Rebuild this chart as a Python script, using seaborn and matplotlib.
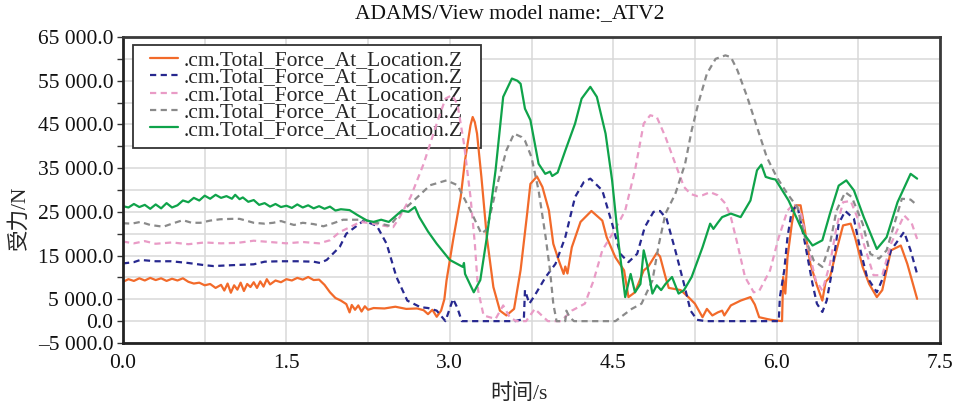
import numpy as np
import pandas as pd
import matplotlib
matplotlib.use("Agg")
import matplotlib.pyplot as plt
import seaborn as sns
from matplotlib.ticker import FuncFormatter, MultipleLocator, FixedLocator
from matplotlib.patches import Rectangle

# ---------------- data (time in s, force in kN -> scaled to N) ----------------
label = ".cm.Total_Force_At_Location.Z"
title = "ADAMS/View model name:_ATV2"
xlabel = "时间/s"
ylabel = "受力/N"

orange_t = [0.00, 0.05, 0.10, 0.15, 0.20, 0.25, 0.30, 0.35, 0.40, 0.45, 0.50, 0.55, 0.60, 0.65, 0.70, 0.75,
            0.80, 0.85, 0.90, 0.93, 0.96, 0.99, 1.02, 1.05, 1.08, 1.11, 1.14, 1.17, 1.20, 1.23, 1.26, 1.29,
            1.32, 1.35, 1.40, 1.45, 1.50, 1.55, 1.60, 1.65, 1.70, 1.75, 1.80, 1.85, 1.90, 1.95, 2.00, 2.05,
            2.08, 2.10, 2.13, 2.16, 2.19, 2.22, 2.25, 2.30, 2.40, 2.50, 2.60, 2.70, 2.76, 2.80, 2.84, 2.88,
            2.92, 2.95, 2.97, 3.03, 3.10, 3.14, 3.19, 3.21, 3.23, 3.25, 3.29, 3.34, 3.40, 3.46, 3.52, 3.59,
            3.65, 3.71, 3.74, 3.80, 3.85, 3.91, 3.95, 4.00, 4.045, 4.06, 4.08, 4.12, 4.20, 4.30, 4.40, 4.44,
            4.52, 4.60, 4.64, 4.70, 4.78, 4.82, 4.90, 4.93, 4.98, 5.01, 5.12, 5.19, 5.25, 5.32, 5.36, 5.41,
            5.46, 5.50, 5.52, 5.58, 5.67, 5.76, 5.80, 5.84, 5.91, 5.95, 6.05, 6.06, 6.08, 6.10, 6.14, 6.17,
            6.22, 6.25, 6.31, 6.37, 6.42, 6.45, 6.49, 6.55, 6.61, 6.68, 6.72, 6.79, 6.85, 6.92, 6.97, 7.05,
            7.14, 7.20, 7.29]
orange_v = [9.0, 9.6, 9.2, 9.8, 9.3, 9.9, 9.4, 9.8, 9.2, 9.7, 9.3, 9.8, 9.0, 8.6, 8.8, 8.2,
            8.5, 7.6, 8.3, 7.0, 8.6, 6.5, 8.2, 7.2, 8.8, 6.9, 8.5, 7.8, 8.9, 7.6, 9.1, 7.9,
            9.6, 8.4, 9.3, 8.9, 9.6, 9.3, 9.9, 9.5, 10.1, 9.4, 9.5, 8.3, 6.6, 5.3, 4.7, 3.9,
            2.0, 3.7, 2.6, 3.6, 2.2, 3.4, 2.6, 3.0, 2.9, 3.3, 2.8, 2.9, 2.5, 1.6, 2.6, 1.0,
            2.4, 5.0, 9.3, 18.5, 28.4, 36.8, 44.8, 46.7, 45.5, 42.9, 33.0, 19.2, 7.8, 2.4, 1.3, 2.8,
            11.7, 24.6, 31.4, 33.1, 30.7, 25.3, 17.7, 13.9, 10.8, 12.5, 10.9, 16.9, 22.7, 25.2, 23.0, 19.2,
            14.6, 11.6, 5.5, 6.6, 11.6, 12.4, 15.6, 14.8, 10.1, 7.6, 7.1, 5.5, 4.0, 0.9, 2.8, 1.3,
            2.0, 2.4, 1.3, 3.6, 4.7, 5.5, 3.8, 0.9, 0.5, 0.3, 0.0, 10.1, 6.3, 14.6, 22.3, 26.5,
            26.5, 22.3, 13.1, 8.2, 4.7, 9.0, 10.1, 16.2, 21.9, 22.3, 19.2, 12.4, 8.5, 5.5, 7.1, 16.2,
            17.3, 13.1, 5.1]

navy_t = [0.00, 0.10, 0.16, 0.30, 0.44, 0.60, 0.75, 0.83, 1.00, 1.20, 1.30, 1.44, 1.60, 1.75, 1.81, 1.87,
          1.93, 1.99, 2.05, 2.21, 2.33, 2.42, 2.51, 2.61, 2.73, 2.80, 2.88, 2.96, 3.03, 3.07, 3.11, 3.60,
          3.68, 3.69, 3.73, 3.78, 3.88, 3.97, 4.06, 4.15, 4.23, 4.29, 4.40, 4.49, 4.565, 4.64, 4.72, 4.79,
          4.87, 4.93, 4.99, 5.07, 5.15, 5.21, 5.27, 5.35, 6.02, 6.03, 6.07, 6.10, 6.14, 6.19, 6.25, 6.33,
          6.37, 6.42, 6.46, 6.51, 6.57, 6.63, 6.71, 6.77, 6.83, 6.92, 6.98, 7.05, 7.17, 7.23, 7.29]
navy_v = [13.2, 13.5, 14.0, 13.7, 13.7, 13.3, 12.8, 12.6, 12.8, 13.0, 13.6, 13.7, 13.7, 13.6, 13.3, 14.0,
          15.5, 17.0, 20.0, 23.0, 21.8, 17.7, 10.1, 4.7, 3.2, 3.0, 2.4, 0.0, 5.1, 3.0, 0.0, 0.0,
          0.5, 7.1, 4.0, 5.9, 10.1, 13.1, 19.2, 28.4, 31.8, 32.6, 29.9, 22.3, 15.4, 13.5, 15.4, 21.5,
          25.0, 25.2, 23.4, 16.2, 8.5, 2.4, 0.3, 0.0, 0.0, 5.5, 11.6, 19.2, 25.3, 26.5, 19.2, 8.5,
          4.0, 2.1, 4.7, 11.6, 22.3, 25.2, 23.4, 16.2, 10.1, 6.6, 10.1, 16.2, 20.4, 16.2, 10.8]

pink_t = [0.00, 0.10, 0.20, 0.30, 0.45, 0.60, 0.75, 0.90, 1.05, 1.20, 1.35, 1.50, 1.65, 1.80, 1.90, 1.99,
          2.05, 2.18, 2.30, 2.40, 2.48, 2.54, 2.64, 2.76, 2.88, 2.96, 3.02, 3.07, 3.13, 3.19, 3.23, 3.26,
          3.31, 3.42, 3.49, 3.55, 3.61, 3.70, 3.78, 3.90, 4.02, 4.12, 4.24, 4.32, 4.40, 4.52, 4.61, 4.70,
          4.78, 4.84, 4.90, 4.98, 5.07, 5.15, 5.21, 5.27, 5.32, 5.39, 5.46, 5.53, 5.58, 5.64, 5.71, 5.79,
          5.84, 5.94, 6.02, 6.10, 6.16, 6.22, 6.28, 6.36, 6.42, 6.49, 6.55, 6.61, 6.68, 6.74, 6.80, 6.89,
          6.97, 7.05, 7.17, 7.24, 7.29]
pink_v = [18.2, 17.8, 18.3, 17.7, 18.0, 17.6, 18.0, 17.8, 17.9, 18.4, 18.1, 17.8, 18.1, 17.8, 18.5, 20.4,
          21.1, 22.7, 22.3, 21.8, 21.5, 23.8, 28.4, 36.0, 45.2, 50.9, 51.7, 49.7, 40.6, 28.4, 17.7, 7.0,
          1.3, 0.5, 3.6, 0.9, 0.0, 0.0, 2.8, 0.0, 0.0, 2.4, 4.0, 9.3, 16.2, 21.1, 25.3, 34.5,
          45.2, 47.1, 46.7, 42.1, 36.0, 30.7, 29.1, 28.6, 28.8, 29.5, 28.8, 26.9, 23.8, 17.7, 10.1, 6.6,
          6.9, 11.6, 19.2, 25.3, 26.9, 25.2, 17.7, 9.3, 7.0, 13.1, 21.5, 27.2, 27.5, 23.8, 17.7, 10.5,
          10.5, 17.7, 24.2, 22.4, 18.8]

gray_t = [0.00, 0.08, 0.16, 0.25, 0.37, 0.45, 0.55, 0.63, 0.71, 0.80, 0.89, 1.00, 1.07, 1.13, 1.20, 1.30,
          1.38, 1.45, 1.50, 1.57, 1.65, 1.75, 1.84, 1.93, 2.02, 2.21, 2.36, 2.45, 2.54, 2.67, 2.82, 2.97,
          3.07, 3.19, 3.29, 3.34, 3.43, 3.52, 3.59, 3.66, 3.69, 3.75, 3.815, 3.88, 3.92, 3.95, 3.98, 4.06,
          4.07, 4.10, 4.14, 4.52, 4.60, 4.67, 4.76, 4.86, 4.92, 4.98, 5.07, 5.16, 5.22, 5.28, 5.36, 5.44,
          5.53, 5.58, 5.64, 5.73, 5.82, 5.91, 6.00, 6.10, 6.19, 6.26, 6.34, 6.42, 6.49, 6.55, 6.63, 6.69,
          6.79, 6.86, 6.94, 7.01, 7.09, 7.15, 7.23, 7.29]
gray_v = [22.4, 22.3, 22.7, 22.0, 21.6, 22.3, 23.1, 22.5, 22.5, 23.0, 23.3, 23.4, 23.4, 23.0, 22.5, 22.3,
          22.5, 22.9, 22.5, 22.0, 22.5, 22.2, 21.7, 22.4, 23.2, 23.2, 22.3, 21.8, 24.6, 27.6, 31.1, 32.2,
          31.1, 25.3, 20.0, 21.0, 30.7, 39.1, 42.9, 42.1, 41.3, 37.5, 29.9, 19.2, 11.6, 4.0, 0.0, 0.0,
          2.4, 0.9, 0.0, 0.0, 1.5, 2.8, 4.0, 9.3, 17.7, 24.6, 29.1, 36.0, 43.6, 49.7, 56.6, 60.0,
          60.8, 60.4, 57.4, 51.3, 44.4, 37.5, 33.0, 29.1, 26.1, 19.2, 13.9, 12.4, 17.7, 25.3, 29.5, 28.4,
          22.3, 15.4, 14.3, 16.2, 23.0, 28.0, 27.8, 26.5]

green_t = [0.00, 0.05, 0.10, 0.15, 0.20, 0.25, 0.30, 0.35, 0.40, 0.45, 0.50, 0.55, 0.60, 0.65, 0.70, 0.75,
           0.80, 0.85, 0.90, 0.95, 1.00, 1.03, 1.07, 1.10, 1.15, 1.20, 1.25, 1.30, 1.35, 1.40, 1.45, 1.50,
           1.55, 1.60, 1.65, 1.70, 1.75, 1.80, 1.85, 1.90, 1.95, 2.00, 2.08, 2.15, 2.24, 2.30, 2.37, 2.44,
           2.50, 2.56, 2.62, 2.68, 2.72, 2.80, 2.88, 3.00, 3.12, 3.13, 3.14, 3.22, 3.28, 3.34, 3.42, 3.49,
           3.57, 3.62, 3.65, 3.69, 3.74, 3.815, 3.876, 3.92, 3.94, 3.99, 4.06, 4.15, 4.21, 4.29, 4.35, 4.43,
           4.49, 4.55, 4.61, 4.66, 4.70, 4.75, 4.78, 4.81, 4.86, 4.90, 4.94, 4.98, 5.04, 5.10, 5.15, 5.22,
           5.32, 5.39, 5.42, 5.46, 5.50, 5.58, 5.67, 5.76, 5.82, 5.86, 5.90, 5.95, 5.99, 6.11, 6.25, 6.33,
           6.42, 6.49, 6.57, 6.64, 6.71, 6.80, 6.92, 7.01, 7.11, 7.23, 7.29]
green_v = [26.3, 26.0, 26.8, 26.1, 26.6, 25.7, 26.7, 25.8, 27.0, 26.0, 26.5, 27.6, 27.2, 28.2, 27.6, 28.7,
           28.0, 28.9, 28.2, 28.6, 28.0, 28.9, 27.9, 28.3, 27.3, 27.7, 26.6, 27.0, 26.2, 26.8, 26.1, 26.4,
           25.9, 26.7, 26.0, 26.5, 25.8, 26.3, 25.7, 26.2, 25.3, 25.6, 25.4, 24.3, 23.0, 22.7, 23.2, 22.7,
           24.0, 25.3, 25.0, 26.1, 23.8, 20.5, 17.7, 14.0, 12.4, 13.3, 10.8, 6.6, 9.4, 19.2, 34.5, 51.3,
           55.5, 55.0, 54.3, 48.6, 46.0, 36.0, 33.7, 34.2, 33.2, 34.0, 39.0, 45.2, 50.9, 53.6, 51.3, 42.9,
           32.2, 17.7, 5.5, 10.8, 6.6, 8.5, 16.2, 13.1, 6.3, 8.2, 7.1, 8.5, 10.1, 6.3, 7.1, 10.1,
           16.9, 22.3, 21.1, 22.5, 23.8, 24.6, 23.8, 27.6, 34.5, 35.8, 33.0, 32.6, 32.4, 27.6, 20.0, 17.3,
           18.5, 24.6, 31.0, 32.2, 29.9, 23.8, 16.5, 19.2, 27.2, 33.7, 32.6]

x_ticks = [0.0, 1.5, 3.0, 4.5, 6.0, 7.5]
y_ticks = [-5000, 0, 5000, 15000, 25000, 35000, 45000, 55000, 65000]

# ---------------- style ----------------
sns.set_style("white")
serif = ["Liberation Serif", "Noto Sans CJK SC", "DejaVu Sans"]
plt.rcParams["font.family"] = serif
plt.rcParams["axes.unicode_minus"] = True
FS = 15.5

fig = plt.figure(figsize=(9.59, 4.08), dpi=100)
ax = fig.add_axes([123 / 959, 1 - 343 / 408, (940 - 123) / 959, (343 - 37) / 408])

series = [
    (orange_t, orange_v, "#F26A2A", "-"),
    (navy_t, navy_v, "#27288F", "--"),
    (pink_t, pink_v, "#E99BC6", "--"),
    (gray_t, gray_v, "#8A8A8A", "--"),
    (green_t, green_v, "#0FA34A", "-"),
]
for t, v, c, ls in series:
    df = pd.DataFrame({"t": t, "F": np.array(v) * 1000.0})
    sns.lineplot(data=df, x="t", y="F", ax=ax, color=c, linewidth=1.6,
                 sort=False, estimator=None, label=label)
    l = ax.get_lines()[-1]
    l.set_zorder(3)
    if ls == "--":
        l.set_dashes((2.8, 2.0))

ax.set_xlim(0, 7.5)
ax.set_ylim(-5000, 65000)
ax.xaxis.set_major_locator(FixedLocator(x_ticks))
ax.xaxis.set_minor_locator(MultipleLocator(0.75))
ax.yaxis.set_major_locator(FixedLocator(y_ticks))
ax.yaxis.set_minor_locator(MultipleLocator(5000))
ax.xaxis.set_major_formatter(FuncFormatter(lambda x, p: f"{x:.1f}"))


def yfmt(y, p):
    s = f"{abs(y):,.1f}".replace(",", " ")
    return ("\u2013" if y < 0 else "") + s


ax.yaxis.set_major_formatter(FuncFormatter(yfmt))
ax.grid(True, which="both", color="#d8d8d8", linewidth=1.1)
ax.set_axisbelow(True)
ax.tick_params(axis="x", which="both", length=0, pad=8, labelsize=FS, colors="#111111")
ax.tick_params(axis="y", which="both", length=4, width=1, color="#333333", direction="out",
               left=True, pad=3, labelsize=FS, labelcolor="#111111")
for side, sp in ax.spines.items():
    sp.set_visible(True)
    sp.set_color("#222222" if side in ("left", "bottom") else "#3a3a3a")
    sp.set_linewidth(2.0)
    sp.set_zorder(5)

ax.set_xlabel(xlabel, fontsize=FS, family=serif)
ax.xaxis.set_label_coords((519 - 123) / 817, -(384 - 343) / 306)
ax.set_ylabel(ylabel, fontsize=FS, family=serif)
ax.yaxis.set_label_coords(-(123 - 30) / 817, (343 - 218) / 306)

fig.text(510 / 959, 1 - 14 / 408, title, ha="center", va="center", fontsize=FS, family=serif,
         color="#111111")


# legend frame (drawn beneath the curves, as in the reference)
def fx(px):
    return px / 959


def fy(py):
    return 1 - py / 408


frame = Rectangle((fx(133), fy(148)), fx(481) - fx(133), fy(45) - fy(148), transform=fig.transFigure,
                  facecolor="white", edgecolor="#333333", linewidth=1.3, zorder=1)
ax.add_artist(frame)
frame.set_transform(fig.transFigure)

leg = ax.legend(loc="upper left", bbox_to_anchor=(fx(150), fy(50)), bbox_transform=fig.transFigure,
                borderaxespad=0, fontsize=FS, handlelength=1.3, handletextpad=0.25,
                labelspacing=-0.12, borderpad=0.0, frameon=False)
leg.set_zorder(2)

fig.savefig("out.png", dpi=100)
